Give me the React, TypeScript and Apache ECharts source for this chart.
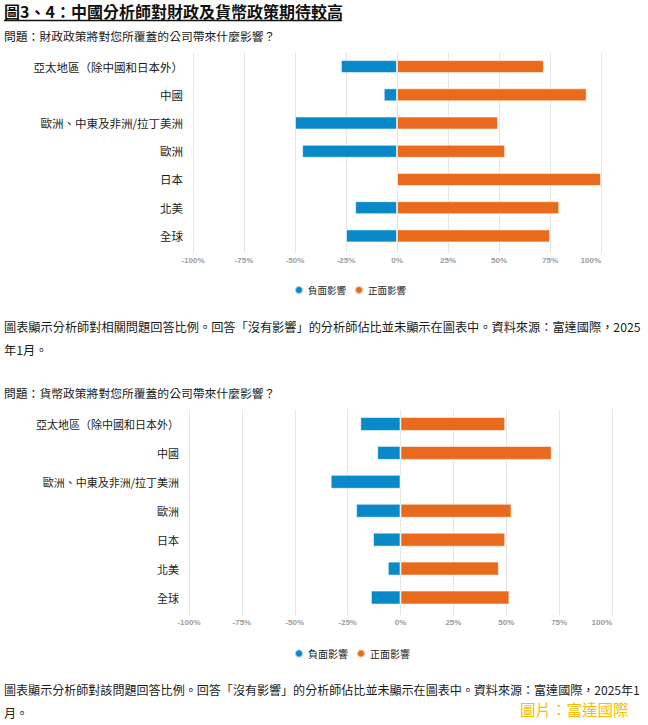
import React, { useEffect, useRef } from "react";
import * as echarts from "echarts";

const categories = [
  "亞太地區（除中國和日本外）",
  "中國",
  "歐洲、中東及非洲/拉丁美洲",
  "歐洲",
  "日本",
  "北美",
  "全球",
];
const fiscalNegative = [-27.5, -6.5, -50, -46.5, 0, -20.5, -25];
const fiscalPositive = [72, 93, 49.5, 53, 100, 79.5, 75];
const monetaryNegative = [-19, -11, -33, -21, -13, -6, -14];
const monetaryPositive = [49.5, 71.5, 0, 52.5, 49.5, 46.5, 51.5];
const seriesNames = ["負面影響", "正面影響"];
const xTicks = { min: -100, max: 100, interval: 25 };

const titleText = "圖3、4：中國分析師對財政及貨幣政策期待較高";
const question1 = "問題：財政政策將對您所覆蓋的公司帶來什麼影響？";
const note1 = [
  "圖表顯示分析師對相關問題回答比例。回答「沒有影響」的分析師佔比並未顯示在圖表中。資料來源：富達國際，2025",
  "年1月。",
];
const question2 = "問題：貨幣政策將對您所覆蓋的公司帶來什麼影響？";
const note2 = [
  "圖表顯示分析師對該問題回答比例。回答「沒有影響」的分析師佔比並未顯示在圖表中。資料來源：富達國際，2025年1",
  "月。",
];
const watermark = "圖片：富達國際";

const BLUE = "#0a89c9";
const ORANGE = "#ea6a1d";
const CJK = '"Noto Sans CJK TC", "Noto Sans", sans-serif';
const LATIN = '"Liberation Sans", Arial, sans-serif';

export default function App() {
  const ref = useRef<HTMLDivElement>(null);

  useEffect(() => {
    if (!ref.current) return;
    const chart = echarts.init(ref.current, undefined, { renderer: "svg" });

    const xAxisBase = (gridIndex: number) => ({
      type: "value" as const,
      gridIndex,
      min: xTicks.min,
      max: xTicks.max,
      interval: xTicks.interval,
      axisLine: { show: false },
      axisTick: { show: true, length: 3, lineStyle: { color: "#e4e4e4" } },
      splitLine: { show: true, lineStyle: { color: "#e6e6e6", width: 1 } },
      axisLabel: {
        formatter: (v: number) => `${v}%`,
        fontSize: 8,
        fontWeight: "bold" as const,
        color: "#9c9c9c",
        fontFamily: LATIN,
        margin: 6,
        alignMaxLabel: "right" as const,
      },
    });

    const yAxisBase = (gridIndex: number, fontSize: number) => ({
      type: "category" as const,
      gridIndex,
      data: categories,
      inverse: true,
      axisLine: { show: false },
      axisTick: { show: false },
      splitLine: { show: false },
      axisLabel: { fontSize, color: "#1a1a1a", fontFamily: CJK, margin: 10 },
    });

    const barSeries = (
      name: string,
      data: number[],
      color: string,
      axis: number,
      width: number
    ) => ({
      name,
      type: "bar" as const,
      xAxisIndex: axis,
      yAxisIndex: axis,
      data,
      barWidth: width,
      barGap: "-100%",
      itemStyle: { color, borderColor: "rgba(255,255,255,0.55)", borderWidth: 1 },
    });

    const textEl = (x: number, y: number, text: string, size: number, extra: any = {}) => ({
      type: "text",
      x,
      y,
      style: {
        text,
        fontSize: size,
        lineHeight: Math.round(size + 1),
        fontFamily: CJK,
        fill: "#1a1a1a",
        textVerticalAlign: "middle",
        ...extra,
      },
    });

    const legendBase = (top: number, fontSize: number) => ({
      left: 289,
      top,
      icon: "circle",
      itemWidth: 8,
      itemHeight: 8,
      itemGap: 8,
      data: seriesNames,
      selectedMode: false,
      textStyle: { fontSize, color: "#1a1a1a", fontFamily: CJK },
    });

    chart.setOption({
      animation: false,
      backgroundColor: "#ffffff",
      grid: [
        { left: 193, right: 47, top: 52.5, height: 197.5, containLabel: false },
        { left: 189, right: 36, top: 409.5, height: 202.5, containLabel: false },
      ],
      xAxis: [xAxisBase(0), xAxisBase(1)],
      yAxis: [yAxisBase(0, 11.5), yAxisBase(1, 11)],
      legend: [legendBase(280, 9.5), legendBase(643.5, 10)],
      series: [
        barSeries(seriesNames[0], fiscalNegative, BLUE, 0, 13),
        barSeries(seriesNames[1], fiscalPositive, ORANGE, 0, 13),
        barSeries(seriesNames[0], monetaryNegative, BLUE, 1, 14),
        barSeries(seriesNames[1], monetaryPositive, ORANGE, 1, 14),
      ],
      graphic: [
        textEl(4, 11, titleText, 16, { fontWeight: "bold", fill: "#111111" }),
        {
          type: "line",
          shape: { x1: 4, y1: 20.5, x2: 342, y2: 20.5 },
          style: { stroke: "#111111", lineWidth: 1.3 },
        },
        textEl(4, 35, question1, 11.8),
        textEl(4, 327, note1[0], 12.2),
        textEl(4, 349.5, note1[1], 12.2),
        textEl(4, 392, question2, 11.8),
        textEl(4, 689.5, note2[0], 12.05),
        textEl(4, 712, note2[1], 12.05),
        textEl(520, 709, watermark, 15.5, { fill: "#f9bc00", lineHeight: 15 }),
      ],
    });

    return () => chart.dispose();
  }, []);

  return (
    <div
      ref={ref}
      style={{ position: "fixed", left: 0, top: 0, width: 648, height: 725, background: "#fff" }}
    />
  );
}
